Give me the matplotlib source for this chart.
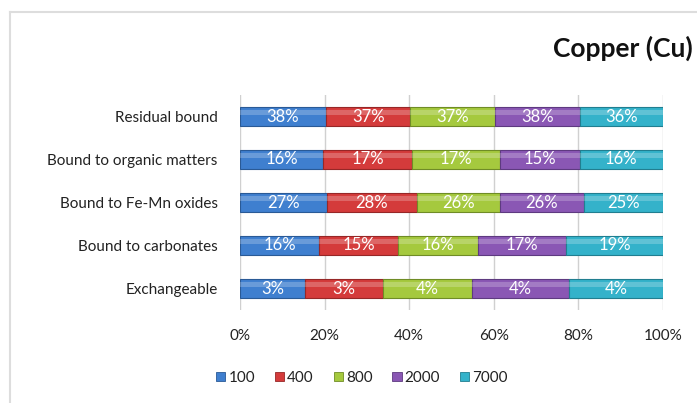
import matplotlib
matplotlib.use("Agg")
import matplotlib.pyplot as plt
import numpy as np
from matplotlib.patches import Rectangle
from matplotlib.lines import Line2D

plt.rcParams['font.family'] = ['Lato', 'DejaVu Sans']

categories = ["Exchangeable", "Bound to carbonates", "Bound to Fe-Mn oxides",
              "Bound to organic matters", "Residual bound"]
series_names = ["100", "400", "800", "2000", "7000"]
# underlying values (percent of each concentration)
v100 = [2.6, 15.6, 27.0, 16.0, 38.0]
v400 = [3.1, 15.4, 28.2, 17.1, 37.2]
v800 = [3.55, 15.9, 25.8, 16.9, 37.2]
v2000 = [3.9, 17.2, 26.2, 15.3, 37.8]
v7000 = [3.75, 19.1, 24.8, 16.0, 36.4]
# labels displayed on the bars
l100 = ["3%", "16%", "27%", "16%", "38%"]
l400 = ["3%", "15%", "28%", "17%", "37%"]
l800 = ["4%", "16%", "26%", "17%", "37%"]
l2000 = ["4%", "17%", "26%", "15%", "38%"]
l7000 = ["4%", "19%", "25%", "16%", "36%"]
xtick_labels = ["0%", "20%", "40%", "60%", "80%", "100%"]

colors = ["#3F7FCF", "#D43B3B", "#A5C93E", "#8A57B4", "#34B2CA"]
edge_colors = ["#2A5A96", "#962727", "#6F8C26", "#5E3A80", "#217E90"]

values = np.array([v100, v400, v800, v2000, v7000], dtype=float)
labels = [l100, l400, l800, l2000, l7000]
totals = values.sum(axis=0)
shares = values / totals * 100

fig = plt.figure(figsize=(6.97, 4.03), dpi=100)
ax = fig.add_axes([240/697, 1-310/403, 423/697, 215/403])

y = np.arange(len(categories))
h = 0.42
left = np.zeros(len(categories))
for i, name in enumerate(series_names):
    w = shares[i]
    ax.barh(y, w, left=left, height=h, color=colors[i], edgecolor=edge_colors[i],
            linewidth=0.8, zorder=3, label=name)
    # glossy highlight
    ax.barh(y + h*0.22, w, left=left, height=h*0.28, color="white", alpha=0.22,
            linewidth=0, zorder=4)
    for j in range(len(categories)):
        ax.text(left[j] + w[j]/2, y[j], labels[i][j], ha="center", va="center",
                color="white", fontsize=12, zorder=5)
    left = left + w

ax.set_xlim(0, 100)
ax.set_ylim(-0.5, len(categories) - 0.5)
ax.set_xticks([0, 20, 40, 60, 80, 100])
ax.set_xticklabels(xtick_labels)
ax.set_yticks(y)
ax.set_yticklabels(categories)
ax.tick_params(axis="x", length=0, pad=14, labelsize=11, colors="#222222")
ax.tick_params(axis="y", length=0, pad=16, labelsize=11, colors="#222222")
ax.grid(axis="x", color="#D0D0D0", linewidth=1, zorder=0)
for s in ax.spines.values():
    s.set_visible(False)

# title
fig.text(693/697, 1-48/403, "Copper (Cu)", ha="right", va="center",
         fontsize=19, fontweight="bold", color="#111111")

# legend
handles = [Rectangle((0, 0), 1, 1, facecolor=c, edgecolor=e, linewidth=0.6)
           for c, e in zip(colors, edge_colors)]
fig.legend(handles, series_names, loc="center", bbox_to_anchor=(362/697, 1-378/403),
           ncol=5, frameon=False, fontsize=11, handlelength=0.6, handleheight=0.6,
           handletextpad=0.2, columnspacing=1.3, labelcolor="#222222")

# chart border lines (left and top)
fig.add_artist(Line2D([10/697, 10/697], [0, 1-12/403], transform=fig.transFigure,
                      color="#DDDDDD", linewidth=1.5))
fig.add_artist(Line2D([10/697, 1], [1-12/403, 1-12/403], transform=fig.transFigure,
                      color="#DDDDDD", linewidth=1.5))

fig.savefig("out.png", dpi=100)
